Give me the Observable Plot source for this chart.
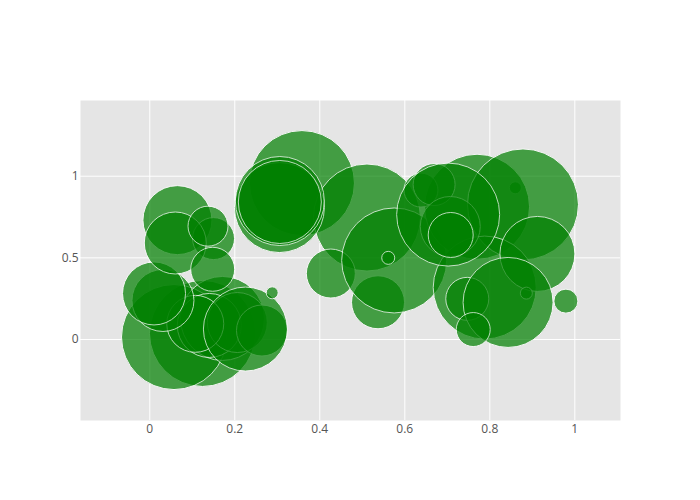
<!DOCTYPE html>
<html>
<head>
<meta charset="utf-8">
<script src="https://cdn.jsdelivr.net/npm/d3@7"></script>
<script src="https://cdn.jsdelivr.net/npm/@observablehq/plot@0.6"></script>
<style>
  html, body { margin: 0; padding: 0; background: #fff; }
  #chart { width: 700px; height: 500px; }
</style>
</head>
<body>
<div id="chart"></div>
<script>
// Bubble data (draw order)
const xs = [0.124, 0.057, 0.171, 0.140, 0.206, 0.264, 0.107, 0.225, 0.288, 0.031,
            0.010, 0.065, 0.150, 0.060, 0.137, 0.148, 0.358, 0.511, 0.305, 0.306,
            0.306, 0.426, 0.537, 0.575, 0.561, 0.860, 0.770, 0.878, 0.788, 0.638,
            0.669, 0.707, 0.702, 0.708, 0.912, 0.886, 0.979, 0.747, 0.843, 0.761];
const ys = [0.037, 0.015, 0.129, 0.086, 0.104, 0.055, 0.096, 0.064, 0.286, 0.239,
            0.282, 0.731, 0.618, 0.591, 0.694, 0.430, 0.958, 0.747, 0.808, 0.848,
            0.842, 0.404, 0.228, 0.484, 0.500, 0.929, 0.813, 0.827, 0.318, 0.915,
            0.949, 0.692, 0.765, 0.640, 0.524, 0.284, 0.235, 0.249, 0.227, 0.061];
const sizes = [106, 105, 84, 64, 60, 51, 57, 84, 12, 62,
               63, 69, 42, 62, 40, 44, 105, 107, 90, 89,
               83, 49, 53, 105, 13, 12, 105, 111, 103, 34,
               42, 60, 103, 45, 75, 12, 24, 43, 90, 34];

const xTicks = [0, 0.2, 0.4, 0.6, 0.8, 1];
const yTicks = [0, 0.5, 1];

const data = xs.map((x, i) => ({x, y: ys[i], size: sizes[i]}));

const chart = Plot.plot({
  width: 700,
  height: 500,
  marginLeft: 80,
  marginRight: 80,
  marginTop: 100,
  marginBottom: 80,
  style: {fontFamily: "'Open Sans', sans-serif", fontSize: "12px", color: "#444", background: "#fff"},
  x: {domain: [-0.163, 1.1075]},
  y: {domain: [-0.496, 1.4636]},
  r: {type: "identity"},
  marks: [
    Plot.frame({fill: "#e5e5e5", stroke: null}),
    Plot.gridX(xTicks, {stroke: "#fff", strokeOpacity: 1, strokeWidth: 1}),
    Plot.gridY(yTicks, {stroke: "#fff", strokeOpacity: 1, strokeWidth: 1}),
    Plot.dot(data, {x: "x", y: "y", r: d => d.size / 2, fill: "green", stroke: "#fff",
                    strokeWidth: 1, opacity: 0.7, sort: null}),
    Plot.axisX(xTicks, {tickSize: 0, tickPadding: 4, label: null, tickFormat: d => String(d), fill: "#555"}),
    Plot.axisY(yTicks, {tickSize: 0, tickPadding: 2, label: null, tickFormat: d => String(d), fill: "#555"})
  ]
});
document.getElementById("chart").appendChild(chart);
</script>
</body>
</html>
